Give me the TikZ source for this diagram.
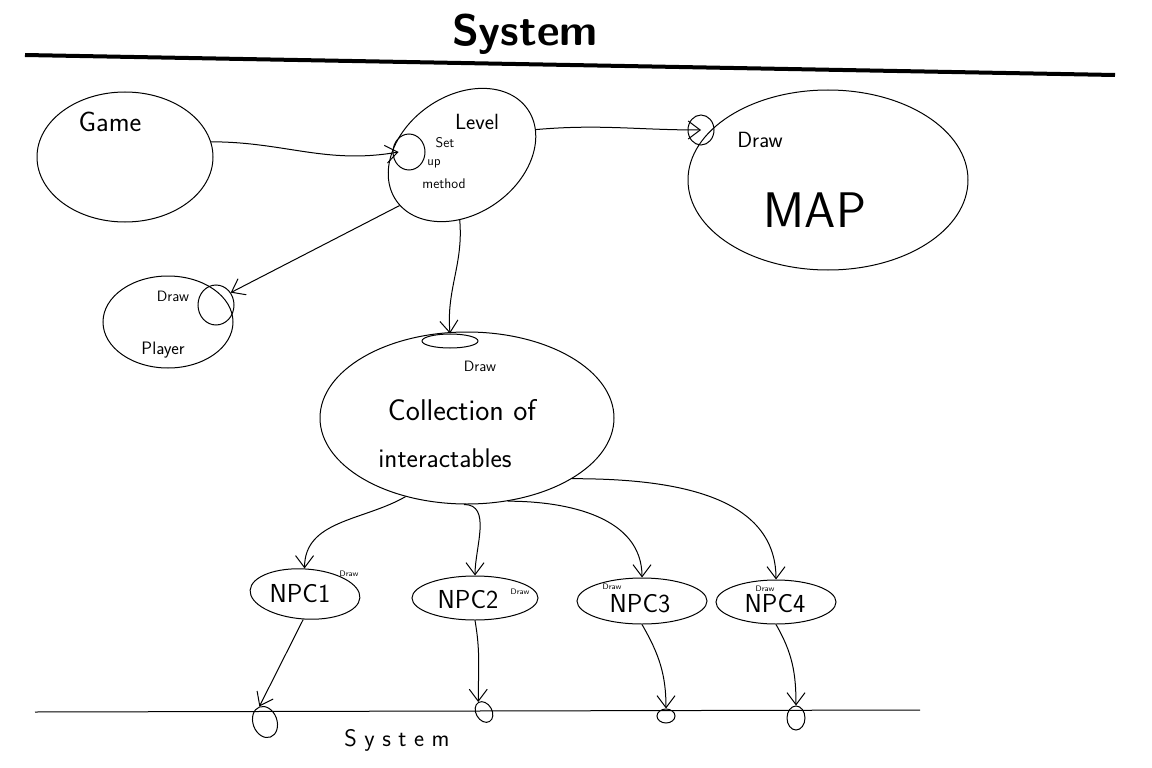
\documentclass[tikz,border=0pt]{standalone}
\usepackage{tikz}
\usetikzlibrary{arrows.meta,positioning,calc,shapes.geometric}
\usepackage{xcolor}
\newcommand{\fs}[1]{\fontsize{#1}{#1}\selectfont\sffamily}

\begin{document}
\begin{tikzpicture}[x=1pt,y=-1pt,line width=1pt,
        blob/.style={draw,ellipse,inner sep=0pt},
        hook/.style={draw,ellipse,inner sep=0pt},
        word/.style={inner sep=0pt},
        link/.style={-{Straight Barb[length=12pt,width=18pt]}},
        ]
                    \useasboundingbox (0,0) rectangle (1152,768);
                    % title and system lines
                    \node[word] (title) at (525,34) {\fs{44}\bfseries System};
                    \coordinate (topL) at (25,55);
                    \coordinate (topR) at (1115,75);
                    \draw[line width=4pt] (topL) -- (topR);
                    \coordinate (botL) at (35,712);
                    \coordinate (botR) at (920,710);
                    \draw (botL) -- (botR);
                    \node[word] (systxt) at (397,740) {\fs{24}S y s t e m};
                    % upper blobs
                    \node[blob,minimum width=176pt,minimum height=130pt] (game) at (125,157) {};
                    \node[word] (gametxt) at (110,122) {\fs{28}Game};
                    \node[blob,minimum width=160pt,minimum height=118pt,rotate=35] (level) at (462,155) {};
                    \node[hook,minimum width=32pt,minimum height=36pt] (setup) at (409,152) {};
                    \node[word] (leveltxt) at (477,122) {\fs{22}Level};
                    \node[word] (settxt) at (445,143) {\fs{14}Set};
                    \node[word] (uptxt) at (434,164) {\fs{13}up};
                    \node[word] (methtxt) at (444,184) {\fs{14}method};
                    \node[blob,minimum width=280pt,minimum height=180pt] (map) at (828,180) {};
                    \node[hook,minimum width=26pt,minimum height=30pt] (mapdraw) at (701,130) {};
                    \node[word] (mapdrawtxt) at (760,140) {\fs{22}Draw};
                    \node[word] (maptxt) at (815,210) {\fs{50}MAP};
                    \node[blob,minimum width=130pt,minimum height=92pt] (player) at (168,322) {};
                    \node[hook,minimum width=36pt,minimum height=40pt] (plydraw) at (216,305) {};
                    \node[word] (plydrawtxt) at (173,296) {\fs{15}Draw};
                    \node[word] (plytxt) at (163,350) {\fs{18}Player};
                    % collection
                    \node[blob,minimum width=294pt,minimum height=172pt] (coll) at (467,418) {};
                    \node[hook,minimum width=56pt,minimum height=14pt] (colldraw) at (450,341) {};
                    \node[word] (colldrawtxt) at (480,366) {\fs{15}Draw};
                    \node[word] (colltxt) at (462,410) {\fs{30}Collection of};
                    \node[word] (inttxt) at (445,458) {\fs{27}interactables};
                    % npcs
                    \node[blob,minimum width=110pt,minimum height=50pt,rotate=-4] (npc1) at (305,594) {};
                    \node[word] (npc1txt) at (300,594) {\fs{26}NPC1};
                    \node[word] (npc1d) at (349,574) {\fs{8}Draw};
                    \node[blob,minimum width=126pt,minimum height=44pt] (npc2) at (475,598) {};
                    \node[word] (npc2txt) at (468,600) {\fs{26}NPC2};
                    \node[word] (npc2d) at (520,592) {\fs{8}Draw};
                    \node[blob,minimum width=130pt,minimum height=46pt] (npc3) at (642,601) {};
                    \node[word] (npc3txt) at (640,604) {\fs{26}NPC3};
                    \node[word] (npc3d) at (612,587) {\fs{8}Draw};
                    \node[blob,minimum width=120pt,minimum height=44pt] (npc4) at (776,602) {};
                    \node[word] (npc4txt) at (775,604) {\fs{26}NPC4};
                    \node[word] (npc4d) at (765,589) {\fs{8}Draw};
                    % system sockets
                    \node[hook,minimum width=24pt,minimum height=32pt,rotate=20] (sys1) at (265,722) {};
                    \node[hook,minimum width=16pt,minimum height=22pt,rotate=30] (sys2) at (484,712) {};
                    \node[hook,minimum width=18pt,minimum height=14pt] (sys3) at (666,716) {};
                    \node[hook,minimum width=18pt,minimum height=24pt] (sys4) at (796,718) {};
                    % links
                    \draw[link] (game.10) to[out=0,in=190] ([xshift=6pt]setup.west);
                    \draw[link] (level.344) to[out=5,in=180] (mapdraw.center);
                    \draw[link] (level.184) -- (plydraw.40);
                    \draw[link] (level.233) to[out=-85,in=95] (colldraw.north);
                    \draw[link] (coll.232) to[out=210,in=90] (npc1.95);
                    \draw[link] (coll.268) to[out=0,in=90] (npc2.north);
                    \draw[link] (coll.296) to[out=0,in=90] (npc3.north);
                    \draw[link] (coll.330) to[out=0,in=90] (npc4.north);
                    \draw[link] (npc1.south) -- (sys1.north);
                    \draw[link] (npc2.south) to[out=-80,in=90] (sys2.north);
                    \draw[link] (npc3.south) to[out=-60,in=90] (sys3.north);
                    \draw[link] (npc4.south) to[out=-60,in=90] (sys4.north);
                \end{tikzpicture}
\end{document}
